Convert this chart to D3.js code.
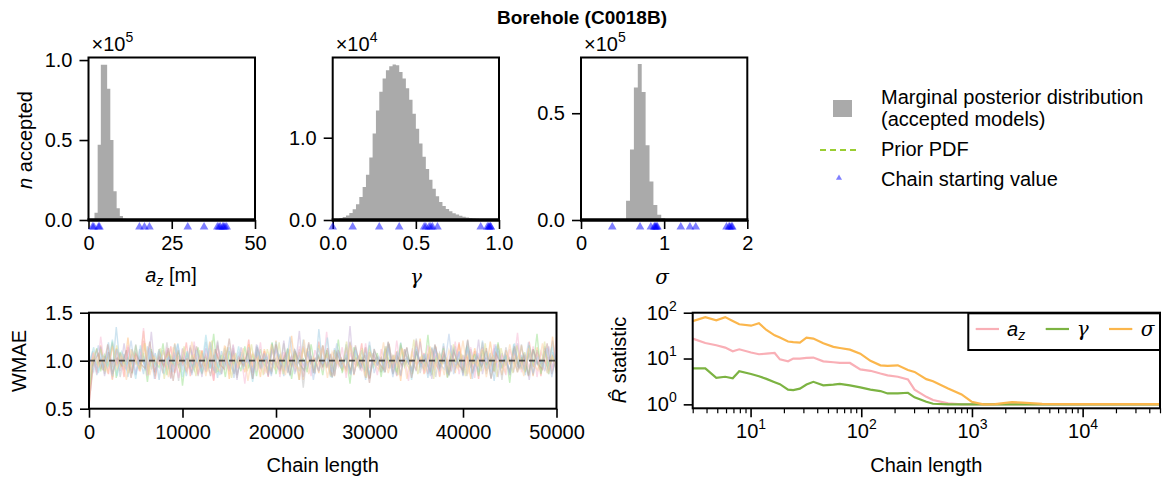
<!DOCTYPE html>
<html><head><meta charset="utf-8">
<script src="https://cdn.jsdelivr.net/npm/d3@7"></script>
<style>body{margin:0;background:#fff}</style>
</head><body>
<svg id="c" width="1164" height="483"></svg>
<script>
// ---------------- DATA ----------------
const title = "Borehole (C0018B)";
// a_z histogram (bin edges, counts)
const azEdges = [1.8, 2.75, 3.7, 4.65, 5.6, 6.55, 7.5, 8.45, 9.4, 10.35, 11.3];
const azCounts = [4500, 47000, 97000, 97000, 82000, 50000, 18000, 7300, 2500, 800];
// gamma histogram (bin start 0, width 0.02)
const gammaCounts = [40, 100, 200, 350, 550, 850, 1300, 1900, 2800, 4000, 5500, 7600, 10500, 13300, 15600, 17200, 18200, 18700, 18900, 18800,
  18000, 17200, 16000, 14600, 12900, 11100, 9300, 7700, 6200, 4900, 3800, 2900, 2200, 1700, 1350, 1050, 830, 660, 520, 400,
  310, 240, 185, 145, 115, 90, 70, 50, 30, 20];
// sigma histogram
const sigmaEdges = [0.495, 0.542, 0.589, 0.636, 0.683, 0.730, 0.777, 0.824, 0.871, 0.918, 0.965, 1.012];
const sigmaCounts = [500, 9000, 33000, 62000, 73000, 60000, 35000, 18000, 7000, 2500, 800];
// chain starting values
const azStart = [1.2, 1.6, 3.0, 3.3, 15.3, 16.8, 18.3, 29.8, 34.7, 38.7, 39.2, 39.6, 40.3, 40.6, 41.0, 41.5];
const gammaStart = [0.0, 0.12, 0.28, 0.40, 0.55, 0.56, 0.58, 0.59, 0.60, 0.63, 0.89, 0.93, 0.94, 0.94, 0.95, 0.95];
const sigmaStart = [0.376, 0.71, 0.84, 0.88, 0.89, 0.90, 0.91, 0.92, 1.20, 1.31, 1.38, 1.75, 1.78, 1.79, 1.81, 1.82];
// WMAE traces (values at evenly spaced chain lengths 0..50000)
const chainA = [0.52,0.98,1.12,0.91,1.05,0.86,1.18,0.95,1.08,0.83,1.14,0.97,1.02,0.89,1.21,0.93,1.06,0.81,1.10,0.99,0.92,1.15,0.87,1.04,0.96,1.19,0.84,1.07,0.94,1.11,0.88,1.03,0.79,1.16,0.98,1.09,0.90,1.13,0.85,1.01,0.95,1.22,0.88,1.05,0.92,1.10,0.83,1.17,0.97,1.04,0.89,1.12,0.93,1.08,0.80,1.15,0.96,1.02,0.87,1.20,0.94,1.06,0.85,1.11,0.99,0.91,1.14,0.86,1.07,0.95,1.18,0.82,1.09,0.97,1.03,0.88,1.13,0.92,1.05,0.84,1.16,0.98,1.01,0.89,1.21,0.93,1.08,0.86,1.12,0.96,0.90,1.15,0.83,1.06,0.99,1.19,0.87,1.04,0.94,1.10,0.81,1.14,0.97,1.02,0.88,1.17,0.92,1.07,0.85,1.11,0.95,1.03,0.89,1.20,0.93,1.09,0.84,1.13,0.98,1.05,0.90];
const chainB = [0.60,1.04,0.88,1.16,0.93,1.09,0.80,1.13,1.00,0.91,1.24,0.87,1.06,0.95,1.31,0.90,1.02,0.84,1.12,0.97,1.07,0.82,1.18,0.94,1.03,0.89,1.14,0.99,0.86,1.10,0.92,1.20,0.85,1.05,0.96,1.15,0.81,1.08,0.93,1.01,0.88,1.17,0.95,1.06,0.83,1.12,0.98,0.90,1.21,0.86,1.04,0.94,1.26,0.89,1.09,0.80,1.13,0.97,1.02,0.87,1.16,0.92,1.07,0.84,1.11,0.99,0.91,1.19,0.85,1.05,0.95,1.14,0.82,1.08,0.96,1.03,0.88,1.18,0.93,1.10,0.79,1.12,0.97,1.01,0.90,1.23,0.86,1.06,0.94,1.15,0.83,1.09,0.98,1.04,0.87,1.17,0.92,1.07,0.81,1.13,0.95,1.02,0.89,1.20,0.93,1.06,0.85,1.11,0.97,1.03,0.88,1.16,0.91,1.08,0.84,1.14,0.96,1.00,0.90,1.25,0.87];
const chainC = [0.95,1.10,0.85,1.02,0.92,1.19,0.88,1.35,0.94,1.07,0.83,1.12,0.97,1.04,0.86,1.15,0.91,1.08,0.80,1.11,0.99,0.89,1.17,0.93,1.05,0.84,1.13,0.96,1.01,0.87,1.20,0.92,1.06,0.82,1.10,0.98,0.90,1.16,0.85,1.03,0.95,1.14,0.81,1.09,0.97,1.02,0.88,1.18,0.93,1.07,0.84,1.12,0.96,1.00,0.89,1.22,0.91,1.05,0.86,1.33,0.94,1.08,0.83,1.13,0.98,0.90,1.17,0.87,1.04,0.95,1.11,0.80,1.09,0.97,1.03,0.88,1.15,0.92,1.06,0.85,1.19,0.96,1.01,0.89,1.12,0.93,1.07,0.82,1.14,0.99,0.91,1.18,0.86,1.05,0.94,1.10,0.84,1.16,0.97,1.02,0.88,1.21,0.92,1.08,0.79,1.13,0.95,1.04,0.87,1.17,0.93,1.06,0.85,1.11,0.98,1.00,0.90,1.15,0.86,1.09,0.94];
const chainD = [0.70,0.97,1.13,0.89,1.06,0.94,1.20,0.82,1.09,0.96,1.03,0.87,1.16,0.91,1.08,0.78,1.12,0.98,0.93,1.18,0.85,1.05,0.95,1.11,0.74,1.07,0.99,0.90,1.14,0.86,1.02,0.94,1.28,0.88,1.06,0.83,1.10,0.97,1.01,0.89,1.15,0.92,1.07,0.84,1.12,0.96,0.91,1.19,0.86,1.04,0.95,1.13,0.81,1.08,0.98,1.02,0.88,1.17,0.93,1.05,0.85,1.11,0.97,0.90,1.22,0.87,1.06,0.76,1.14,0.96,1.03,0.89,1.16,0.92,1.08,0.83,1.12,0.98,1.00,0.88,1.18,0.94,1.05,0.86,1.10,0.97,0.91,1.27,0.85,1.04,0.95,1.13,0.82,1.09,0.99,1.02,0.87,1.15,0.93,1.07,0.84,1.11,0.96,1.01,0.89,1.19,0.92,1.06,0.77,1.13,0.97,1.03,0.88,1.16,0.94,1.28,0.86,1.10,0.95,1.04,0.90];
const chainE = [0.88,1.06,0.93,1.15,0.84,1.09,0.97,1.02,0.89,1.18,0.92,1.07,0.85,1.12,0.98,0.90,1.30,0.87,1.04,0.95,1.11,0.81,1.08,0.96,1.03,0.88,1.16,0.93,1.05,0.83,1.13,0.97,0.91,1.19,0.86,1.06,0.94,1.10,0.80,1.14,0.99,1.01,0.87,1.17,0.92,1.08,0.84,1.12,0.96,0.90,1.21,0.88,1.05,0.95,1.31,0.83,1.09,0.97,1.02,0.89,1.15,0.93,1.07,0.85,1.11,0.98,0.91,1.36,0.86,1.04,0.94,1.13,0.82,1.08,0.96,1.03,0.88,1.17,0.92,1.06,0.84,1.12,0.97,1.00,0.89,1.20,0.93,1.07,0.81,1.14,0.95,1.02,0.87,1.16,0.91,1.09,0.85,1.11,0.98,0.90,1.22,0.86,1.05,0.94,1.13,0.83,1.08,0.96,1.03,0.88,1.18,0.92,1.06,0.80,1.12,0.97,1.01,0.89,1.15,0.93,1.07];
const chainF = [0.78,1.01,0.90,1.14,0.86,1.07,0.95,1.12,0.83,1.05,0.98,0.88,1.17,0.92,1.04,0.85,1.10,0.96,1.02,0.87,1.19,0.91,1.06,0.79,1.13,0.97,0.93,1.16,0.84,1.08,0.95,1.03,0.89,1.21,0.86,1.05,0.94,1.11,0.82,1.09,0.98,1.00,0.88,1.15,0.92,1.07,0.85,1.13,0.96,0.90,1.18,0.87,1.04,0.95,1.12,0.72,1.08,0.97,1.02,0.89,1.16,0.93,1.06,0.84,1.10,0.99,0.91,1.20,0.86,1.05,0.94,1.14,0.81,1.07,0.96,1.03,0.88,1.17,0.92,1.09,0.85,1.11,0.98,0.90,1.23,0.87,1.04,0.95,1.13,0.83,1.08,0.97,1.01,0.89,1.15,0.93,1.06,0.84,1.12,0.96,0.91,1.19,0.86,1.05,0.94,1.10,0.80,1.14,0.98,1.02,0.88,1.17,0.92,1.07,0.85,1.11,0.97,1.00,0.90,1.21,0.87];
const chainG = [0.92,1.08,0.86,1.25,0.94,1.03,0.81,1.11,0.97,0.90,1.16,0.88,1.05,0.95,1.34,0.84,1.07,0.98,1.01,0.87,1.14,0.93,1.09,0.82,1.12,0.96,0.91,1.20,0.85,1.04,0.94,1.13,0.80,1.08,0.97,1.02,0.89,1.17,0.92,1.06,0.76,1.11,0.99,0.90,1.19,0.86,1.05,0.95,1.12,0.83,1.09,0.97,1.03,0.88,1.15,0.93,1.07,0.84,1.11,0.98,0.91,1.30,0.87,1.04,0.94,1.14,0.82,1.08,0.96,1.02,0.89,1.18,0.92,1.06,0.85,1.12,0.97,1.00,0.88,1.21,0.93,1.05,0.79,1.13,0.95,1.03,0.87,1.16,0.91,1.09,0.84,1.11,0.98,0.90,1.20,0.86,1.04,0.94,1.14,0.82,1.08,0.96,1.02,0.89,1.17,0.93,1.06,0.85,1.12,0.97,1.29,0.88,1.05,0.92,1.15,0.83,1.09,0.98,1.03,0.90,1.24];
const chainH = [0.85,1.03,0.96,1.12,0.89,1.07,0.83,1.16,0.94,1.01,0.87,1.10,0.98,0.92,1.18,0.86,1.05,0.95,1.13,0.81,1.09,0.97,1.02,0.88,1.15,0.93,1.06,0.84,1.11,0.99,0.90,1.21,0.87,1.04,0.94,1.14,0.82,1.08,0.96,1.03,0.89,1.17,0.92,1.06,0.85,1.12,0.97,0.91,1.19,0.86,1.05,0.95,1.10,0.80,1.13,0.98,1.01,0.88,1.16,0.93,1.07,0.84,1.11,0.96,0.90,1.20,0.87,1.04,0.94,1.13,0.82,1.09,0.97,1.02,0.89,1.15,0.92,1.06,0.85,1.12,0.98,0.91,1.22,0.86,1.05,0.95,1.14,0.81,1.08,0.96,1.03,0.88,1.17,0.93,1.07,0.84,1.10,0.97,1.00,0.89,1.18,0.92,1.06,0.83,1.13,0.95,1.02,0.87,1.16,0.91,1.09,0.85,1.11,0.98,0.90,1.20,0.86,1.04,0.94];
const chainI = [0.97,1.14,0.87,1.05,0.93,1.22,0.84,1.09,0.96,1.02,0.81,1.16,0.90,1.07,0.95,1.12,0.86,1.04,0.98,1.18,0.83,1.10,0.94,1.01,0.89,1.27,0.92,1.06,0.85,1.13,0.97,0.88,1.15,0.91,1.08,0.78,1.11,0.99,1.03,0.86,1.20,0.93,1.05,0.84,1.12,0.96,0.90,1.17,0.87,1.06,0.95,1.24,0.82,1.09,0.98,1.01,0.88,1.14,0.92,1.07,0.85,1.11,0.97,0.89,1.19,0.86,1.04,0.94,1.13,0.80,1.08,0.96,1.02,0.87,1.16,0.91,1.06,0.84,1.12,0.98,0.90,1.21,0.86,1.05,0.93,1.10,0.82,1.15,0.97,1.03,0.88,1.18,0.92,1.07,0.85,1.11,0.96,1.00,0.89,1.14,0.93];
const chainJ = [0.55,0.99,1.07,0.90,1.17,0.86,1.03,0.95,1.11,0.82,1.08,0.97,0.92,1.20,0.88,1.05,0.94,1.13,0.79,1.10,0.98,1.02,0.87,1.15,0.93,1.06,0.84,1.12,0.96,0.91,1.23,0.86,1.04,0.95,1.09,0.81,1.14,0.99,1.01,0.88,1.17,0.92,1.07,0.85,1.11,0.97,0.90,1.19,0.87,1.05,0.94,1.13,0.83,1.08,0.96,1.03,0.89,1.16,0.92,1.06,0.77,1.12,0.98,0.91,1.20,0.86,1.04,0.95,1.14,0.82,1.09,0.97,1.02,0.88,1.17,0.93,1.07,0.85,1.10,0.96,0.90,1.22,0.87,1.05,0.94,1.13,0.81,1.08,0.98,1.01,0.89,1.15,0.92,1.06,0.84,1.12,0.97,0.91,1.18,0.86,1.04];
const chainK = [1.02,0.89,1.16,0.93,1.08,0.84,1.12,0.97,0.91,1.21,0.86,1.05,0.95,1.13,0.81,1.09,0.98,1.03,0.88,1.17,0.92,1.07,0.85,1.11,0.96,0.90,1.19,0.87,1.04,0.94,1.14,0.82,1.08,0.97,1.01,0.89,1.16,0.93,1.06,0.84,1.12,0.98,0.91,1.25,0.86,1.05,0.95,1.10,0.80,1.13,0.97,1.02,0.88,1.18,0.92,1.07,0.85,1.11,0.96,0.90,1.20,0.87,1.04,0.94,1.13,0.83,1.09,0.98,1.03,0.89,1.15,0.93,1.06,0.84,1.12,0.97,0.91,1.28,0.86,1.05,0.95,1.14,0.81,1.08,0.96,1.02,0.88,1.17,0.92,1.07,0.85,1.11,0.98,0.90,1.19,0.87,1.04,0.94,1.13,0.83,1.09];
const chainL = [0.82,1.09,0.94,1.03,0.87,1.15,0.92,1.06,0.80,1.12,0.98,0.90,1.18,0.85,1.04,0.96,1.10,0.83,1.14,0.97,1.01,0.88,1.20,0.93,1.07,0.84,1.11,0.95,0.89,1.16,0.86,1.05,0.94,1.13,0.79,1.08,0.99,1.02,0.87,1.17,0.92,1.06,0.85,1.12,0.96,0.91,1.22,0.86,1.04,0.95,1.14,0.82,1.09,0.97,1.02,0.88,1.16,0.93,1.07,0.84,1.10,0.98,0.90,1.19,0.87,1.05,0.94,1.13,0.81,1.08,0.96,1.03,0.89,1.15,0.92,1.06,0.85,1.11,0.97,0.91,1.21,0.86,1.04,0.95,1.12,0.83,1.09,0.98,1.01,0.88,1.17,0.93,1.07,0.84,1.13,0.96,0.90,1.18,0.87,1.05,0.94];
const chains = [chainA, chainB, chainC, chainD, chainE, chainF, chainG, chainH, chainI, chainJ, chainK, chainL];
const chainColors = ['#ff9896','#ffbb78','#9ecae1','#98df8a','#c5b0d5','#bdbdbd','#f7b6d2','#dbdb8d','#9edae5','#c49c94','#aec7e8','#fdd0a2'];
// R-hat statistic
const rhatX = [3,3.9,4.9,5.9,6.9,7.9,10.1,11.9,13.9,16.5,18.4,21.8,24.3,27.9,32,36.9,45.4,56,64,79,98,121,149,173,214,264,303,387,445,609,806,993,1267,1618,2296,2831,4305,10000,50000];
const rhatAz = [27.2,21.8,19.5,17.3,14.4,15.9,13.5,12.4,12.8,13.2,9.6,8.7,10,10,10.3,10.5,8.7,8.3,8.0,8.0,5.8,5.4,4.7,4.3,4.0,3.5,2.1,1.46,1.24,1.05,1.0,1.0,1.0,1.0,1.0,1.0,1.0,1.0,1.0];
const rhatGamma = [6.1,6.1,3.8,4.0,3.7,5.3,4.6,4.1,3.6,3.05,2.76,2.1,2.05,2.2,2.7,3.1,2.6,2.7,2.8,2.6,2.34,2.1,1.95,1.73,1.73,1.79,1.42,1.14,1.03,1.0,1.0,1.0,1.0,1.0,1.0,1.0,1.0,1.0,1.0];
const rhatSigma = [65.6,80,68,80,66,56,52,59,42,32,28.6,23.5,22.8,22.3,28.6,27.2,21.5,18,17,15.6,12.8,8.9,7.1,6.9,7.1,5.6,5.1,3.55,3.2,2.23,1.65,1.14,1.0,1.01,1.12,1.09,1.02,1.01,1.01];
const rhatColors = ['#f9afb6','#7cb342','#fbb64c'];
// tick values
const azTicks = [0, 25, 50], gammaTicks = [0, 0.5, 1], sigmaTicks = [0, 1, 2];
const wmaeXTicks = [0, 10000, 20000, 30000, 40000, 50000], wmaeYTicks = [0.5, 1.0, 1.5];
const rhatXTicks = [10, 100, 1000, 10000], rhatYTicks = [1, 10, 100];

// ---------------- DRAWING ----------------
const FONT = "'Liberation Sans', Arial, Helvetica, sans-serif";
const SERIF = "'DejaVu Serif', 'Liberation Serif', serif";
const FS = 20;
const svg = d3.select('#c').attr('font-family', FONT);

svg.append('text').attr('x', 582).attr('y', 24).attr('text-anchor','middle')
  .attr('font-size', 19).attr('font-weight','bold').text(title);

function styleAxis(g){
  g.select('.domain').remove();
  g.selectAll('.tick line').attr('stroke','#000').attr('stroke-width',1.6);
  g.selectAll('.tick text').attr('font-size',FS).attr('font-family',FONT).attr('fill','#000');
}
function sup(sel, base, exp){
  sel.text(null);
  sel.append('tspan').text(base);
  sel.append('tspan').attr('dy',-9).attr('font-size',14).text(exp);
}

const TOP = 57.5, BOT = 220;
const panels = [
  {x: d3.scaleLinear([0,50],[88.5,255]), y: d3.scaleLinear([0,101600],[BOT,TOP]),
   edges: azEdges, counts: azCounts, starts: azStart, xt: azTicks, xf: d3.format('d'),
   yt: [0,50000,100000], exp: '5', div: 1e5},
  {x: d3.scaleLinear([0,1],[332.7,499]), y: d3.scaleLinear([0,19750],[BOT,TOP]),
   edges: d3.range(gammaCounts.length+1).map(i=>i*0.02), counts: gammaCounts, starts: gammaStart, xt: gammaTicks, xf: d3.format('.1f'),
   yt: [0,10000], exp: '4', div: 1e4},
  {x: d3.scaleLinear([0,2],[581,747.3]), y: d3.scaleLinear([0,76100],[BOT,TOP]),
   edges: sigmaEdges, counts: sigmaCounts, starts: sigmaStart, xt: sigmaTicks, xf: d3.format('d'),
   yt: [0,50000], exp: '5', div: 1e5}
];
panels.forEach(p=>{
  const g = svg.append('g');
  // histogram as one stepped outline (no seams between bars)
  const path = d3.path();
  path.moveTo(p.x(p.edges[0]), BOT);
  p.counts.forEach((c,i)=>{
    path.lineTo(p.x(p.edges[i]), p.y(c));
    path.lineTo(p.x(p.edges[i+1]), p.y(c));
  });
  path.lineTo(p.x(p.edges[p.counts.length]), BOT);
  path.closePath();
  g.append('path').attr('d', path.toString()).attr('fill','#aaaaaa');
  const [x0,x1] = p.x.range();
  const gx = g.append('g').attr('transform',`translate(0,${BOT})`)
    .call(d3.axisBottom(p.x).tickValues(p.xt).tickFormat(p.xf).tickSize(9).tickPadding(7));
  styleAxis(gx);
  const gy = g.append('g').attr('transform',`translate(${x0},0)`)
    .call(d3.axisLeft(p.y).tickValues(p.yt).tickFormat(d=>d3.format('.1f')(d/p.div)).tickSize(9).tickPadding(7));
  styleAxis(gy);
  g.append('rect').attr('x',x0).attr('y',TOP).attr('width',x1-x0).attr('height',BOT-TOP)
    .attr('fill','none').attr('stroke','#000').attr('stroke-width',2);
  g.append('line').attr('x1',x0-1).attr('x2',x1+1).attr('y1',BOT).attr('y2',BOT)
    .attr('stroke','#000').attr('stroke-width',3.6);
  g.selectAll('path.tri').data(p.starts).join('path').attr('class','tri')
    .attr('d', d3.symbol(d3.symbolTriangle, 32)())
    .attr('transform', d=>`translate(${p.x(d)},227)`)
    .attr('fill','rgba(0,0,255,0.5)');
  const ot = g.append('text').attr('x', x0+3).attr('y', 51).attr('font-size', FS);
  ot.append('tspan').text('×10');
  ot.append('tspan').attr('dy',-9).attr('font-size',14).text(p.exp);
});
// axis labels top
const yl = svg.append('text').attr('transform','translate(32,140) rotate(-90)').attr('text-anchor','middle').attr('font-size',FS);
yl.append('tspan').attr('font-style','italic').text('n');
yl.append('tspan').text(' accepted');
const azl = svg.append('text').attr('x',171).attr('y',282).attr('text-anchor','middle').attr('font-size',FS);
azl.append('tspan').attr('font-style','italic').text('a');
azl.append('tspan').attr('font-style','italic').attr('font-size',14).attr('dy',4).text('z');
azl.append('tspan').attr('dy',-4).text(' [m]');
svg.append('text').attr('x',416).attr('y',284).attr('text-anchor','middle').attr('font-size',FS)
  .attr('font-family',SERIF).attr('font-style','italic').text('γ');
svg.append('text').attr('x',662).attr('y',284).attr('text-anchor','middle').attr('font-size',FS)
  .attr('font-family',SERIF).attr('font-style','italic').text('σ');

// figure legend
const lg = svg.append('g');
lg.append('rect').attr('x',833).attr('y',100).attr('width',19).attr('height',17).attr('fill','#aaaaaa');
lg.append('text').attr('x',881).attr('y',104).attr('font-size',FS).text('Marginal posterior distribution');
lg.append('text').attr('x',881).attr('y',126).attr('font-size',FS).text('(accepted models)');
lg.append('line').attr('x1',820).attr('x2',860).attr('y1',150).attr('y2',150)
  .attr('stroke','#9acd32').attr('stroke-width',1.8).attr('stroke-dasharray','6,4');
lg.append('text').attr('x',881).attr('y',156).attr('font-size',FS).text('Prior PDF');
lg.append('path').attr('d', d3.symbol(d3.symbolTriangle, 16)()).attr('transform','translate(839,178)')
  .attr('fill','rgba(0,0,255,0.5)');
lg.append('text').attr('x',881).attr('y',186).attr('font-size',FS).text('Chain starting value');

// ---- WMAE panel ----
const BL = {x0:89, x1:556.5, y0:312.7, y1:408.7};
const wx = d3.scaleLinear([0,50000],[BL.x0,BL.x1]);
const wy = d3.scaleLinear([0.5,1.5],[BL.y1,BL.y0]);
svg.append('clipPath').attr('id','clipW').append('rect')
  .attr('x',BL.x0).attr('y',BL.y0).attr('width',BL.x1-BL.x0).attr('height',BL.y1-BL.y0);
const wg = svg.append('g').attr('clip-path','url(#clipW)');
chains.forEach((c,k)=>{
  const step = 50000/(c.length-1);
  wg.append('path').datum(c)
    .attr('d', d3.line().x((d,i)=>wx(i*step)).y(d=>wy(d)))
    .attr('fill','none').attr('stroke',chainColors[k]).attr('stroke-width',1.4).attr('stroke-opacity',0.5);
});
wg.append('line').attr('x1',BL.x0).attr('x2',BL.x1).attr('y1',wy(1)).attr('y2',wy(1))
  .attr('stroke','#333').attr('stroke-width',1.8).attr('stroke-dasharray','6,4').attr('stroke-opacity',0.85);
const wgx = svg.append('g').attr('transform',`translate(0,${BL.y1})`)
  .call(d3.axisBottom(wx).tickValues(wmaeXTicks).tickFormat(d3.format('d')).tickSize(9).tickPadding(7));
styleAxis(wgx);
const wgy = svg.append('g').attr('transform',`translate(${BL.x0},0)`)
  .call(d3.axisLeft(wy).tickValues(wmaeYTicks).tickFormat(d3.format('.1f')).tickSize(9).tickPadding(7));
styleAxis(wgy);
svg.append('rect').attr('x',BL.x0).attr('y',BL.y0).attr('width',BL.x1-BL.x0).attr('height',BL.y1-BL.y0)
  .attr('fill','none').attr('stroke','#000').attr('stroke-width',2);
svg.append('text').attr('transform',`translate(26,361) rotate(-90)`).attr('text-anchor','middle').attr('font-size',FS).text('WMAE');
svg.append('text').attr('x',(BL.x0+BL.x1)/2).attr('y',472).attr('text-anchor','middle').attr('font-size',FS).text('Chain length');

// ---- R-hat panel ----
const BR = {x0:692.7, x1:1160, y0:312.7, y1:408.3};
const rx = d3.scaleLog([3,50000],[BR.x0,BR.x1]);
const ry = d3.scaleLog([0.82,100],[BR.y1,BR.y0]);
svg.append('clipPath').attr('id','clipR').append('rect')
  .attr('x',BR.x0).attr('y',BR.y0).attr('width',BR.x1-BR.x0).attr('height',BR.y1-BR.y0);
const rg = svg.append('g').attr('clip-path','url(#clipR)');
[rhatAz, rhatGamma, rhatSigma].forEach((s,k)=>{
  rg.append('path').datum(s)
    .attr('d', d3.line().x((d,i)=>rx(rhatX[i])).y(d=>ry(d)))
    .attr('fill','none').attr('stroke',rhatColors[k]).attr('stroke-width',2.2);
});
const minor = [];
[1,10,100,1000,10000].forEach(dec=>{ for(let m=2;m<=9;m++){ const v=m*dec; if(v>=3 && v<=50000) minor.push(v);} });
const rgm = svg.append('g').attr('transform',`translate(0,${BR.y1})`)
  .call(d3.axisBottom(rx).tickValues(minor).tickFormat('').tickSize(5));
styleAxis(rgm);
rgm.selectAll('.tick line').attr('stroke-width',1.2);
const rgx = svg.append('g').attr('transform',`translate(0,${BR.y1})`)
  .call(d3.axisBottom(rx).tickValues(rhatXTicks).tickSize(9).tickPadding(7));
styleAxis(rgx);
rgx.selectAll('.tick text').each(function(d){ sup(d3.select(this), '10', Math.round(Math.log10(d))); });
const rgy = svg.append('g').attr('transform',`translate(${BR.x0},0)`)
  .call(d3.axisLeft(ry).tickValues(rhatYTicks).tickSize(9).tickPadding(7));
styleAxis(rgy);
rgy.selectAll('.tick text').each(function(d){ sup(d3.select(this), '10', Math.round(Math.log10(d))); });
svg.append('rect').attr('x',BR.x0).attr('y',BR.y0).attr('width',BR.x1-BR.x0).attr('height',BR.y1-BR.y0)
  .attr('fill','none').attr('stroke','#000').attr('stroke-width',2);
const rl = svg.append('text').attr('transform','translate(626,360) rotate(-90)').attr('text-anchor','middle').attr('font-size',FS);
rl.append('tspan').attr('font-style','italic').text('R\u0302');
rl.append('tspan').text(' statistic');
svg.append('text').attr('x',(BR.x0+BR.x1)/2).attr('y',472).attr('text-anchor','middle').attr('font-size',FS).text('Chain length');
// legend in R-hat panel
const rlg = svg.append('g');
rlg.append('rect').attr('x',968.3).attr('y',313.3).attr('width',1160-968.3).attr('height',36.7)
  .attr('fill','#fff').attr('stroke','#000').attr('stroke-width',2);
const labels = [
  {x1:975.7, tx:1007, k:0, kind:'az'},
  {x1:1045.7, tx:1076.7, k:1, kind:'γ'},
  {x1:1109, tx:1140.7, k:2, kind:'σ'}];
labels.forEach(l=>{
  rlg.append('line').attr('x1',l.x1).attr('x2',l.x1+23.3).attr('y1',329).attr('y2',329)
    .attr('stroke',rhatColors[l.k]).attr('stroke-width',2.2);
  const t = rlg.append('text').attr('x',l.tx).attr('y',336).attr('font-size',FS);
  if(l.kind==='az'){
    t.append('tspan').attr('font-style','italic').text('a');
    t.append('tspan').attr('font-style','italic').attr('font-size',14).attr('dy',4).text('z');
  } else {
    t.attr('font-family',SERIF).attr('font-style','italic').text(l.kind);
  }
});
</script>
</body></html>
